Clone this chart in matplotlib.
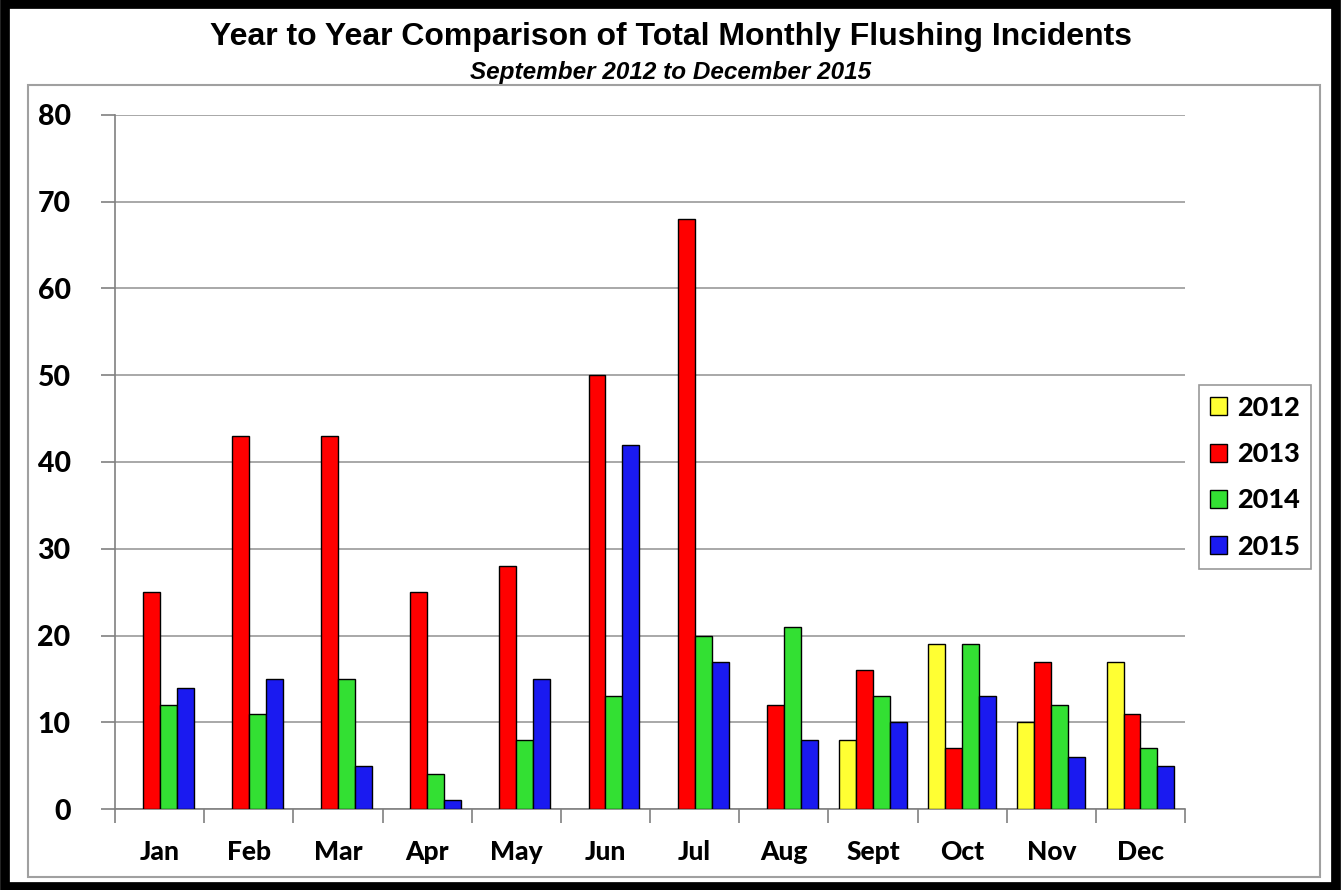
import numpy as np
import matplotlib
matplotlib.use("Agg")
from matplotlib import pyplot as plt
from matplotlib.patches import Rectangle

months = ['Jan', 'Feb', 'Mar', 'Apr', 'May', 'Jun', 'Jul', 'Aug', 'Sept', 'Oct', 'Nov', 'Dec']
years = ['2012', '2013', '2014', '2015']

# nan = no data for that month
v2012 = [np.nan] * 8 + [8, 19, 10, 17]
v2013 = [25, 43, 43, 25, 28, 50, 68, 12, 16, 7, 17, 11]
v2014 = [12, 11, 15, 4, 8, 13, 20, 21, 13, 19, 12, 7]
v2015 = [14, 15, 5, 1, 15, 42, 17, 8, 10, 13, 6, 5]

colors = ['#FFFF33', '#FF0000', '#33E033', '#1A1AF0']

fig = plt.figure(figsize=(13.41, 8.90), dpi=100)
ax = fig.add_axes([0.0858, 0.0910, 0.7979, 0.7798])

# outer black frame + grey chart border
fig.patches.append(Rectangle((0.004, 0.003), 0.992, 0.993, transform=fig.transFigure,
                             fill=False, lw=7, ec='black', zorder=10))
fig.patches.append(Rectangle((28 / 1341, 1 - 877 / 890), (1320 - 28) / 1341, (877 - 85) / 890,
                             transform=fig.transFigure, fill=False, lw=1.5, ec='#a0a0a0'))

x = np.arange(len(months))
w = 0.19
series = [v2012, v2013, v2014, v2015]
for i, (vals, yr) in enumerate(zip(series, years)):
    ax.bar(x + (i - 1.5) * w, vals, w, color=colors[i], edgecolor='black',
           linewidth=1.0, label=yr, zorder=3)

ax.set_xlim(-0.5, len(months) - 0.5)
ax.set_ylim(0, 80)
ax.set_yticks(range(0, 81, 10))
ax.yaxis.grid(True, color='#999999', lw=1.2)
ax.set_axisbelow(True)

ax.set_xticks(x)
ax.set_xticklabels(months)
ax.set_xticks(np.arange(-0.5, len(months)), minor=True)
ax.tick_params(axis='x', which='major', length=0, pad=22)
ax.tick_params(axis='x', which='minor', length=10, color='#808080', width=1.2)
ax.tick_params(axis='y', length=10, color='#808080', width=1.2, pad=22)
for lab in ax.get_xticklabels():
    lab.set_fontfamily('Lato')
    lab.set_fontweight('black')
    lab.set_fontsize(19)
for lab in ax.get_yticklabels():
    lab.set_fontfamily('Lato')
    lab.set_fontweight('black')
    lab.set_fontsize(20.5)

for s in ['top', 'right']:
    ax.spines[s].set_visible(False)
for s in ['left', 'bottom']:
    ax.spines[s].set_color('#808080')
    ax.spines[s].set_linewidth(1.2)

leg = ax.legend(loc='center left', bbox_to_anchor=(1.0055, 0.478),
                prop={'family': 'Lato', 'weight': 'black', 'size': 19.5},
                handlelength=0.65, handleheight=0.65, handletextpad=0.35, labelspacing=0.82,
                frameon=True, fancybox=False, edgecolor='#808080', borderpad=0.4,
                borderaxespad=0.3)
leg.get_frame().set_linewidth(1.2)

fig.text(0.5, 0.958, 'Year to Year Comparison of Total Monthly Flushing Incidents',
         ha='center', va='center', fontsize=23, fontweight='bold', family='Liberation Sans')
fig.text(0.5, 0.918, 'September 2012 to December 2015', ha='center', va='center',
         fontsize=17.5, fontweight='bold', fontstyle='italic', family='Liberation Sans')

fig.savefig('out.png', dpi=100)
